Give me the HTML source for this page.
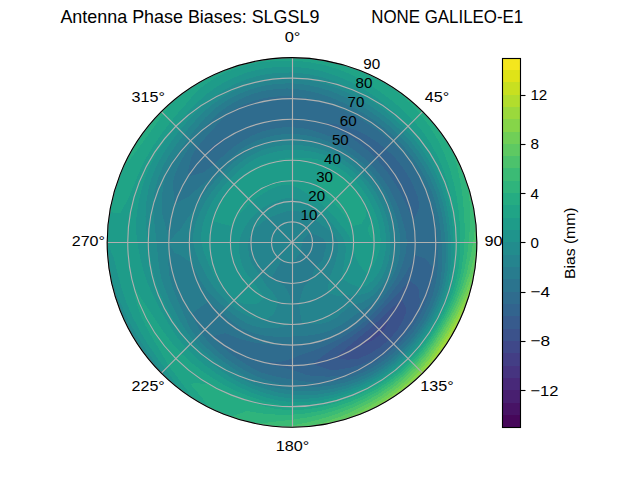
<!DOCTYPE html>
<html lang="en">
<head>
<meta charset="utf-8">
<title>Antenna Phase Biases: SLGSL9 NONE GALILEO-E1</title>
<style>
html,body{margin:0;padding:0;background:#fff;}
body{width:640px;height:480px;overflow:hidden;}
svg{display:block;}
text{font-family:"Liberation Sans",sans-serif;fill:#000;}
.tk{font-size:15.2px;}
.ttl{font-size:18.4px;}
.grid{stroke:#b0b0b0;stroke-width:1.11;fill:none;}
.tick{stroke:#000;stroke-width:1.11;}
</style>
</head>
<body>
<svg width="640" height="480" viewBox="0 0 640 480">
<rect x="0" y="0" width="640" height="480" fill="#ffffff"/>
<defs><clipPath id="polarclip"><circle cx="292.0" cy="242.4" r="184.8"/></clipPath></defs>
<g id="contours" clip-path="url(#polarclip)" shape-rendering="crispEdges" fill-rule="evenodd" stroke="none">
<path fill="#3f4889" d="M385.9 321.19L377.99 328.39L370.17 335.56L362.3 342.8L359.6 345.4L363.51 344.53L373.75 339.82L382.18 332.58L387.83 322.81L388.61 318.85Z"/>
<path fill="#3b528b" d="M397.09 303.08L389.31 310.54L381.73 317.7L374.22 324.62L366.62 331.33L358.86 337.88L350.9 344.42L342.73 351.18L334.79 357.93L346.65 359.6L356.27 359.37L359.02 358.49L369.9 353.65L379.98 347.25L389.07 339.47L396.95 330.46L403.19 320.25L406.3 311.31L405.85 308.13L401.6 298.68ZM388.61 318.85L387.83 322.81L382.18 332.58L373.75 339.82L363.51 344.53L359.6 345.4L362.3 342.8L370.17 335.56L377.99 328.39L385.9 321.19Z"/>
<path fill="#375b8d" d="M377.85 314.44L370.85 321.25L363.5 327.61L355.83 333.55L347.84 339.12L339.56 344.4L337 345.98L331.17 350.01L322.5 356.22L313.33 363.36L312.69 363.85L313.47 364.14L325.82 368.61L330.99 370.05L338.3 369.61L350.41 367.67L362.25 364.08L373.5 358.8L383.98 352.02L393.63 344.03L393.63 344.03L402.27 334.93L409.94 324.98L416.48 314.27L416.48 314.27L419.97 302.07L418.44 288.42L417.84 286.88L409.24 280.25L406.38 284.03L399.15 292.37L391.76 300L384.59 307.23L384.11 307.75ZM401.6 298.68L405.85 308.13L406.3 311.31L403.19 320.25L396.95 330.46L389.07 339.47L379.98 347.25L369.9 353.65L359.02 358.49L356.27 359.37L346.65 359.6L334.79 357.93L342.73 351.18L350.9 344.42L358.86 337.88L366.62 331.33L374.22 324.62L381.73 317.7L389.31 310.54L397.09 303.08Z"/>
<path fill="#32648e" d="M393.69 289.82L387.67 297.63L381.43 305.02L374.94 312L368.13 318.53L360.95 324.57L353.43 330.13L345.59 335.22L337.46 339.89L329.03 344.14L320.29 348L311.23 351.48L301.82 354.63L300.36 355.02L292 358.8L281.57 361.56L270.91 362.04L260.11 361.4L260.11 361.4L260.11 361.4L270.48 364.46L281.11 366.88L292 369.7L303.5 373.82L306.48 375.08L315.57 376.08L327.97 376.65L340.6 375.92L348.14 374.72L352.97 373.15L364.66 368.26L375.8 362.08L386.27 354.74L395.98 346.38L404.84 337.08L412.74 326.95L419.56 316.04L425.13 304.48L429.33 292.38L432.07 279.93L433.5 267.67L433.16 267.29L424.51 258.35L414.56 254.96L411.24 263.42L406.09 272.97L400.01 281.71L395.88 286.7ZM384.11 307.75L384.59 307.23L391.76 300L399.15 292.37L406.38 284.03L409.24 280.25L417.84 286.88L418.44 288.42L419.97 302.07L416.48 314.27L416.48 314.27L409.94 324.98L402.27 334.93L393.63 344.03L393.63 344.03L383.98 352.02L373.5 358.8L362.25 364.08L350.41 367.67L338.3 369.61L330.99 370.05L325.82 368.61L313.47 364.14L312.69 363.85L313.33 363.36L322.5 356.22L331.17 350.01L337 345.98L339.56 344.4L347.84 339.12L355.83 333.55L363.5 327.61L370.85 321.25L377.85 314.44ZM323.85 123.54L333.76 127.66L343.2 132.59L352.14 138.23L360.58 144.46L368.5 151.23L375.89 158.51L382.75 166.26L389.05 174.44L394.8 183.05L400 192.04L404.74 201.37L409.14 211.01L413.26 221.02L413.41 221.45L413.71 220.94L418.81 208.42L418.48 199.79L417.67 196.66L413.43 185.77L407.95 175.46L401.47 165.75L397.54 160.7L394.01 156.8L385.59 148.81L376.49 141.71L366.81 135.57L356.62 130.48L346.01 126.57L335.1 123.99L324 122.97L322.16 122.95ZM204.88 155.28L213.87 149.29L222 142.43L230.4 135.71L230.4 135.71L230.4 135.71L220.4 140.15L211.79 146.81L204.88 155.28L204.88 155.28Z"/>
<path fill="#2f6c8e" d="M343.33 331.31L335.34 335.34L327.09 338.81L318.57 341.57L309.82 343.49L300.94 344.61L292 345.07L292 345.07L283.01 345.13L273.94 344.81L264.77 344.03L255.48 342.75L246.16 340.71L236.93 337.78L227.74 334.18L225.03 333.33L213.42 336.04L212.48 336.5L212.76 336.84L220.31 344.78L228.73 351.99L237.75 358.75L247.32 365.15L257.54 371.02L259.21 371.78L268.65 374.8L280.19 377.42L292 379.5L304.16 381.42L316.76 382.82L321.37 383.1L329.47 382.25L342.02 379.82L354.33 376.07L366.26 371.02L377.64 364.71L388.36 357.24L398.32 348.72L407.41 339.24L415.55 328.91L422.63 317.82L428.57 306.08L433.16 293.78L436.2 281.04L437.7 268.09L438.07 255.18L437.69 242.4L436.67 229.74L434.83 217.22L431.95 204.9L427.88 192.94L422.69 181.46L416.48 170.53L416.48 170.53L408.95 160.51L400.8 151.11L392.04 142.36L382.69 134.32L372.81 126.99L362.45 120.37L351.68 114.41L340.54 109.05L329.04 104.18L324.62 102.42L317.05 100.33L304.65 97.77L292 96.34L292 98.67L292 108.93L292 119.2L292 127.24L301.99 128.17L311.79 130.17L321.28 133.13L323.2 133.86L330.49 136.65L339.36 140.84L347.83 145.7L355.86 151.19L363.43 157.27L370.49 163.91L377.01 171.07L382.94 178.72L388.25 186.83L392.92 195.34L396.96 204.2L400.38 213.36L403.2 222.79L403.27 223.06L405.79 232.44L406.89 242.4L405.94 252.37L403.23 262.01L403.21 262.06L399.84 271.3L395.34 280.01L390.04 288.12L384.29 295.68L378.3 302.83L372.03 309.55L365.41 315.81L358.4 321.54L351.03 326.7L343.33 331.31ZM395.88 286.7L400.01 281.71L406.09 272.97L411.24 263.42L414.56 254.96L424.51 258.35L433.16 267.29L433.5 267.67L432.07 279.93L429.33 292.38L425.13 304.48L419.56 316.04L412.74 326.95L404.84 337.08L395.98 346.38L386.27 354.74L375.8 362.08L364.66 368.26L352.97 373.15L348.14 374.72L340.6 375.92L327.97 376.65L315.57 376.08L306.48 375.08L303.5 373.82L292 369.7L281.11 366.88L270.48 364.46L260.11 361.4L260.11 361.4L260.11 361.4L270.91 362.04L281.57 361.56L292 358.8L300.36 355.02L301.82 354.63L311.23 351.48L320.29 348L329.03 344.14L337.46 339.89L345.59 335.22L353.43 330.13L360.95 324.57L368.13 318.53L374.94 312L381.43 305.02L387.67 297.63L393.69 289.82ZM322.16 122.95L324 122.97L335.1 123.99L346.01 126.57L356.62 130.48L366.81 135.57L376.49 141.71L385.59 148.81L394.01 156.8L397.54 160.7L401.47 165.75L407.95 175.46L413.43 185.77L417.67 196.66L418.48 199.79L418.81 208.42L413.71 220.94L413.41 221.45L413.26 221.02L409.14 211.01L404.74 201.37L400 192.04L394.8 183.05L389.05 174.44L382.75 166.26L375.89 158.51L368.5 151.23L360.58 144.46L352.14 138.23L343.2 132.59L333.76 127.66L323.85 123.54ZM206.23 170.43L213.97 164.37L221.09 157.89L228.26 151.37L235.92 145.27L243.54 140.39L244.22 139.94L252.96 135.13L262.27 131.43L271.98 128.87L281.95 127.47L292 127.24L292 119.2L292 108.93L292 98.67L292 96.34L279.22 96.27L266.49 97.73L254.05 100.78L242.12 105.37L230.94 111.45L226.97 114.22L221.37 120.07L212.84 129.35L204.67 138.32L197.11 147.51L194.29 151.49L191.27 157.88L188.22 169.74L187.81 176.66L195.36 174.73L203.5 172.25ZM204.88 155.28L204.88 155.28L211.79 146.81L220.4 140.15L230.4 135.71L230.4 135.71L230.4 135.71L222 142.43L213.87 149.29L204.88 155.28Z"/>
<path fill="#2b748e" d="M380.91 293.73L374.82 300.39L368.02 306.19L360.69 311.09L353.68 315.91L347 320.94L340.04 325.61L332.58 329.43L324.73 332.33L316.63 334.32L308.42 335.5L300.2 336.12L292 336.49L283.74 336.78L275.37 336.7L266.93 335.98L258.49 334.46L250.22 332L242.33 328.44L235.03 323.76L228.22 318.41L221.58 312.82L214.76 307.21L208.21 301.73L199.84 307.67L191.53 313.71L195.75 323.16L201.4 333L208.44 341.99L216.55 350.15L225.38 357.79L226.27 358.56L235.04 364.56L245.28 370.76L256.15 376.2L267.66 380.46L279.64 383.64L292 386.13L292 386.13L304.67 387.17L317.51 387.06L330.38 385.63L343.15 382.94L355.69 378.99L367.85 373.78L379.48 367.34L390.45 359.73L400.66 351.06L409.61 341.82L409.98 341.4L418.28 330.82L425.58 319.52L431.83 307.61L436.87 295.13L438.49 289.89L440.32 282.14L441.88 268.83L442.14 255.54L441.6 242.4L440.48 229.41L438.57 216.56L435.65 203.91L431.56 191.6L426.33 179.76L420.07 168.46L412.87 157.77L404.82 147.73L396 138.4L386.49 129.79L376.37 121.91L365.7 114.75L354.54 108.27L342.92 102.5L330.83 97.48L318.28 93.33L305.31 90.26L292 88.6L292 96.34L304.65 97.77L317.05 100.33L324.62 102.42L329.04 104.18L340.54 109.05L351.68 114.41L362.45 120.37L372.81 126.99L382.69 134.32L392.04 142.36L400.8 151.11L408.95 160.51L416.48 170.53L416.48 170.53L422.69 181.46L427.88 192.94L431.95 204.9L434.83 217.22L436.67 229.74L437.69 242.4L438.07 255.18L437.7 268.09L436.2 281.04L433.16 293.78L428.57 306.08L422.63 317.82L415.55 328.91L407.41 339.24L398.32 348.72L388.36 357.24L377.64 364.71L366.26 371.02L354.33 376.07L342.02 379.82L329.47 382.25L321.37 383.1L316.76 382.82L304.16 381.42L292 379.5L280.19 377.42L268.65 374.8L259.21 371.78L257.54 371.02L247.32 365.15L237.75 358.75L228.73 351.99L220.31 344.78L212.76 336.84L212.48 336.5L213.42 336.04L225.03 333.33L227.74 334.18L236.93 337.78L246.16 340.71L255.48 342.75L264.77 344.03L273.94 344.81L283.01 345.13L292 345.07L292 345.07L300.94 344.61L309.82 343.49L318.57 341.57L327.09 338.81L335.34 335.34L343.33 331.31L343.33 331.31L351.03 326.7L358.4 321.54L365.41 315.81L372.03 309.55L378.3 302.83L384.29 295.68L390.04 288.12L395.34 280.01L399.84 271.3L403.21 262.06L403.23 262.01L405.94 252.37L406.89 242.4L405.79 232.44L403.27 223.06L403.2 222.79L400.38 213.36L396.96 204.2L392.92 195.34L388.25 186.83L382.94 178.72L377.01 171.07L370.49 163.91L363.43 157.27L355.86 151.19L347.83 145.7L339.36 140.84L330.49 136.65L323.2 133.86L321.28 133.13L311.79 130.17L301.99 128.17L292 127.24L292 129.47L292 133.96L301.43 134.6L310.73 136.16L319.82 138.58L328.62 141.79L337.09 145.71L345.18 150.28L352.88 155.45L360.14 161.19L366.93 167.47L373.18 174.28L378.86 181.58L383.94 189.32L388.36 197.47L392.13 205.95L395.26 214.73L397.76 223.75L399.51 232.99L400.33 242.4L400.01 251.85L398.41 261.16L395.51 270.13L391.38 278.57L386.39 286.42L380.91 293.73ZM219.4 169.8L219.4 169.8L225.61 163.28L232.05 156.78L239.09 150.75L246.84 145.55L255.2 141.28L264.02 137.97L273.18 135.64L282.54 134.3L292 133.96L292 129.47L292 127.24L281.95 127.47L271.98 128.87L262.27 131.43L252.96 135.13L244.22 139.94L243.54 140.39L235.92 145.27L228.26 151.37L221.09 157.89L213.97 164.37L206.23 170.43L203.5 172.25L195.36 174.73L187.81 176.66L188.22 169.74L191.27 157.88L194.29 151.49L197.11 147.51L204.67 138.32L212.84 129.35L221.37 120.07L226.97 114.22L230.94 111.45L242.12 105.37L254.05 100.78L266.49 97.73L279.22 96.27L292 96.34L292 88.6L286.93 88.48L278.56 88.77L265.23 90.59L261.26 91.5L252.26 94.11L239.9 99.26L228.32 105.84L217.74 113.77L208.35 122.93L201.98 130.35L200.13 132.92L192.61 143.01L185.53 153.06L179.46 163.6L174.95 174.82L173.07 181.83L173.19 187L174.3 199.56L174.94 204.01L179.48 201.45L188.79 196.56L190.36 195L198.09 188.18L205.78 182.03L212.89 176.02L219.4 169.8Z"/>
<path fill="#287c8e" d="M309.78 232.13L306.9 235.45L304.8 237.74L303.48 239.32L302.83 240.49L302.56 241.48L302.48 242.4L302.43 243.31L302.34 244.22L302.12 245.11L301.74 245.95L301.39 246.78L301.25 247.74L301.41 248.99L301.6 250.46L301.47 251.87L300.78 252.86L299.8 253.54L298.84 254.25L298.03 255.34L297.26 256.86L296.37 258.71L295.2 260.58L293.72 262.06L292 262.93L292 262.93L290.16 263.43L288.35 263.11L286.69 262.23L286.69 262.23L285 261.62L283.35 260.96L281.73 260.18L281.73 260.18L276.6 269.07L271.47 277.96L271.47 277.96L274.32 280.32L277.57 282.05L280.96 283.59L284.32 285.96L287.74 291.09L289.12 293.65L292 304L292 314.27L292 324.53L284.65 326.41L276.91 327.98L268.94 328.45L260.96 327.68L253.12 325.77L249.02 324.2L245.65 322.68L238.68 318.54L232.17 313.7L225.93 308.47L219.72 303.05L213.55 297.33L207.66 291.1L202.54 284.11L198.21 276.54L194.3 268.58L191.25 262.14L188.14 260.71L179.76 254.85L174.24 252.7L168.8 242.4L177.07 232.34L179.69 230.56L184.07 223.37L189.93 215.05L195.24 208.07L195.64 207.33L200.22 199.6L205.29 192.34L210.8 185.54L216.57 179.11L222.51 172.91L228.59 166.83L234.97 160.96L241.83 155.51L249.26 150.74L257.19 146.76L265.54 143.63L274.19 141.41L281.77 140.24L283.05 140.1L292 139.73L292 139.73L292 139.73L292 133.96L282.54 134.3L273.18 135.64L264.02 137.97L255.2 141.28L246.84 145.55L239.09 150.75L232.05 156.78L225.61 163.28L219.4 169.8L219.4 169.8L219.4 169.8L212.89 176.02L205.78 182.03L198.09 188.18L190.36 195L188.79 196.56L179.48 201.45L174.94 204.01L174.3 199.56L173.19 187L173.07 181.83L174.95 174.82L179.46 163.6L185.53 153.06L192.61 143.01L200.13 132.92L201.98 130.35L208.35 122.93L217.74 113.77L228.32 105.84L239.9 99.26L252.26 94.11L261.26 91.5L265.23 90.59L278.56 88.77L286.93 88.48L292 88.6L292 88.4L292 83.33L278.11 83.67L264.36 85.67L250.97 89.26L238.11 94.33L225.98 100.81L214.79 108.67L212.84 110.3L204.94 118.07L196.22 128.26L188.25 138.65L180.61 148.93L173.52 159.44L167.52 170.53L167.52 170.53L163.87 182.65L162.07 195.11L161.64 207.47L161.86 212.81L163.84 219.8L167.06 231.47L168.8 242.4L168.68 253.19L168.37 264.2L169.36 275.26L172.17 286.01L176.12 296.44L180.49 306.78L184.99 317.33L190.12 327.89L191.36 330.07L196.85 337.55L204.86 346.25L213.76 354.15L223.25 361.47L233.2 368.5L243.67 375.2L254.8 381.24L254.8 381.24L266.78 385.45L279.22 388.45L292 390.42L305.02 391.27L318.17 390.8L331.29 389.02L344.29 386.05L357.05 381.91L357.99 381.55L369.34 376.35L381.06 369.59L392.12 361.72L402.38 352.78L411.73 342.86L420.11 332.1L427.51 320.64L433.91 308.57L439.13 295.95L442.92 282.84L445.11 269.4L445.92 255.87L445.91 247.67L445.51 242.4L444.28 229.08L442.32 215.9L439.36 202.91L435.24 190.27L429.98 178.06L423.65 166.39L416.36 155.32L408.19 144.9L399.22 135.18L389.53 126.16L379.21 117.85L368.32 110.21L356.92 103.19L353.3 101.13L344.93 96.97L332.38 91.72L319.3 87.55L305.8 84.68L292 83.33L292 88.4L292 88.6L305.31 90.26L318.28 93.33L330.83 97.48L342.92 102.5L354.54 108.27L365.7 114.75L376.37 121.91L386.49 129.79L396 138.4L404.82 147.73L412.87 157.77L420.07 168.46L426.33 179.76L431.56 191.6L435.65 203.91L438.57 216.56L440.48 229.41L441.6 242.4L442.14 255.54L441.88 268.83L440.32 282.14L438.49 289.89L436.87 295.13L431.83 307.61L425.58 319.52L418.28 330.82L409.98 341.4L409.61 341.82L400.66 351.06L390.45 359.73L379.48 367.34L367.85 373.78L355.69 378.99L343.15 382.94L330.38 385.63L317.51 387.06L304.67 387.17L292 386.13L292 386.13L279.64 383.64L267.66 380.46L256.15 376.2L245.28 370.76L235.04 364.56L226.27 358.56L225.38 357.79L216.55 350.15L208.44 341.99L201.4 333L195.75 323.16L191.53 313.71L199.84 307.67L208.21 301.73L214.76 307.21L221.58 312.82L228.22 318.41L235.03 323.76L242.33 328.44L250.22 332L258.49 334.46L266.93 335.98L275.37 336.7L283.74 336.78L292 336.49L300.2 336.12L308.42 335.5L316.63 334.32L324.73 332.33L332.58 329.43L340.04 325.61L347 320.94L353.68 315.91L360.69 311.09L368.02 306.19L374.82 300.39L380.91 293.73L380.91 293.73L386.39 286.42L391.38 278.57L395.51 270.13L398.41 261.16L400.01 251.85L400.33 242.4L399.51 232.99L397.76 223.75L395.26 214.73L392.13 205.95L388.36 197.47L383.94 189.32L378.86 181.58L373.18 174.28L366.93 167.47L360.14 161.19L352.88 155.45L345.18 150.28L337.09 145.71L328.62 141.79L319.82 138.58L310.73 136.16L301.43 134.6L292 133.96L292 139.73L292 139.73L300.94 140.26L309.77 141.64L318.42 143.81L326.83 146.71L334.95 150.3L342.73 154.54L350.13 159.38L357.11 164.8L363.62 170.78L369.61 177.28L375.04 184.26L379.86 191.67L384.04 199.48L387.55 207.62L390.39 216.04L392.53 224.67L393.95 233.48L394.67 242.4L394.67 242.4L394.7 251.38L393.6 260.31L391.17 268.97L391.17 268.97L387.29 277.08L382.46 284.58L376.93 291.43L370.5 297.37L363.01 301.99L362.25 302.43L354.11 304.51L347.2 308.19L341.64 313.29L335.8 318.26L328.98 321.71L321.54 323.57L313.9 324.12L306.37 323.88L302.4 323.87L300.22 313.8L298.8 303.62L301.27 294.98L301.8 292.79L303.96 287.03L306.92 283.41L309.88 280.74L312.53 277.96L312.53 277.96L313.37 272.92L314.31 268.99L315.79 266.19L318.04 264.25L320.52 262.37L322.5 260.01L323.49 257.09L324 254.05L324.6 251.14L325.62 248.33L326.39 245.41L325.82 242.4L323.8 239.62L322.53 238.32L320.58 237.36L316.98 235.71L314.15 234.34L311.8 233.17L309.78 232.13L309.78 232.13ZM277.48 256.92L276.29 255.58L275.21 254.16L274.22 252.67L274.22 252.67L274.22 252.67L275.14 254.21L276.24 255.62L277.48 256.92L277.48 256.92ZM272.17 247.71L272.07 245.91L271.99 244.15L271.47 242.4L271.47 242.4L271.47 242.4L271.09 244.23L271.46 246.02L272.17 247.71L272.17 247.71Z"/>
<path fill="#25848e" d="M292 242.4L292 242.4L292 242.4L292 242.4L292 242.4L292 242.4L292 242.4L292 242.4L292 242.4L292 242.4L292 242.4L292 242.4L292 242.4L292 242.4L292 242.4L292 242.4L292 242.4L292 242.4L292 242.4L292 242.4L292 242.4L292 242.4L292 242.4L292 242.4L292 242.4L292 242.4L292 242.4L292 242.4L292 242.4L292 242.4L292 242.4L292 242.4L292 242.4L292 242.4L292 242.4L292 242.4L292 242.4L292 242.4L292 242.4L292 242.4L292 242.4L292 242.4L292 242.4L292 242.4L292 242.4L292 242.4L292 242.4L292 242.4L292 242.4L292 242.4L292 242.4L292 242.4L292 242.4L292 242.4L292 242.4L292 242.4L292 242.4L292 242.4L292 242.4L292 242.4L292 242.4L292 242.4L292 242.4L292 242.4L292 242.4L292 242.4L292 242.4L292 242.4L292 242.4L292 242.4L292 242.4L292 242.4L292 232.13L292 221.87L292 211.6L292 210.65L289.24 210.87L286.53 211.36L283.87 212.07L281.27 212.92L278.7 213.88L276.12 214.9L273.49 215.96L270.77 217.1L268 218.4L265.27 219.97L262.64 221.84L260.12 223.99L257.62 226.37L255.05 228.95L252.33 231.77L252.33 231.77L250.55 235.09L249.14 238.65L248.27 242.4L248.05 246.25L248.33 250.1L248.93 253.94L249.73 257.79L250.87 261.58L252.57 265.16L254.88 268.39L257.42 271.42L259.81 274.59L261.92 278.25L264.15 282.18L266.8 286.05L268.54 288.06L269.97 289.64L273.43 293.43L276.87 298.85L278.24 302.44L274.63 312.14L272.6 314.82L265.64 320.19L263.72 320.1L256.34 318.88L249.17 316.59L242.35 313.31L235.95 309.2L229.96 304.44L224.29 299.21L218.94 293.56L213.93 287.47L209.43 280.9L205.4 273.92L204.68 272.62L201.65 266.61L198.07 258.96L195.04 250.88L193.27 242.4L193.39 233.77L195.1 225.31L197.84 217.17L201.24 209.37L205.21 201.93L209.71 194.89L214.69 188.27L220.03 182.01L225.61 176.01L231.42 170.2L237.56 164.65L244.17 159.55L251.3 155.12L258.89 151.43L266.85 148.55L275.09 146.48L283.5 145.23L292 144.79L292 139.73L292 139.73L283.05 140.1L281.77 140.24L274.19 141.41L265.54 143.63L257.19 146.76L249.26 150.74L241.83 155.51L234.97 160.96L228.59 166.83L222.51 172.91L216.57 179.11L210.8 185.54L205.29 192.34L200.22 199.6L195.64 207.33L195.24 208.07L189.93 215.05L184.07 223.37L179.69 230.56L177.07 232.34L168.8 242.4L174.24 252.7L179.76 254.85L188.14 260.71L191.25 262.14L194.3 268.58L198.21 276.54L202.54 284.11L207.66 291.1L213.55 297.33L219.72 303.05L225.93 308.47L232.17 313.7L238.68 318.54L245.65 322.68L249.02 324.2L253.12 325.77L260.96 327.68L268.94 328.45L276.91 327.98L284.65 326.41L292 324.53L292 314.27L292 304L289.12 293.65L287.74 291.09L284.32 285.96L280.96 283.59L277.57 282.05L274.32 280.32L271.47 277.96L271.47 277.96L276.6 269.07L281.73 260.18L281.73 260.18L283.35 260.96L285 261.62L286.69 262.23L286.69 262.23L288.35 263.11L290.16 263.43L292 262.93L292 262.93L293.72 262.06L295.2 260.58L296.37 258.71L297.26 256.86L298.03 255.34L298.84 254.25L299.8 253.54L300.78 252.86L301.47 251.87L301.6 250.46L301.41 248.99L301.25 247.74L301.39 246.78L301.74 245.95L302.12 245.11L302.34 244.22L302.43 243.31L302.48 242.4L302.56 241.48L302.83 240.49L303.48 239.32L304.8 237.74L306.9 235.45L309.78 232.13L309.78 232.13L309.78 232.13L311.8 233.17L314.15 234.34L316.98 235.71L320.58 237.36L322.53 238.32L323.8 239.62L325.82 242.4L326.39 245.41L325.62 248.33L324.6 251.14L324 254.05L323.49 257.09L322.5 260.01L320.52 262.37L318.04 264.25L315.79 266.19L314.31 268.99L313.37 272.92L312.53 277.96L312.53 277.96L309.88 280.74L306.92 283.41L303.96 287.03L301.8 292.79L301.27 294.98L298.8 303.62L300.22 313.8L302.4 323.87L306.37 323.88L313.9 324.12L321.54 323.57L328.98 321.71L335.8 318.26L341.64 313.29L347.2 308.19L354.11 304.51L362.25 302.43L363.01 301.99L370.5 297.37L376.93 291.43L382.46 284.58L387.29 277.08L391.17 268.97L391.17 268.97L393.6 260.31L394.7 251.38L394.67 242.4L394.67 242.4L393.95 233.48L392.53 224.67L390.39 216.04L387.55 207.62L384.04 199.48L379.86 191.67L375.04 184.26L369.61 177.28L363.62 170.78L357.11 164.8L350.13 159.38L342.73 154.54L334.95 150.3L326.83 146.71L318.42 143.81L309.77 141.64L300.94 140.26L292 139.73L292 144.79L300.51 145.15L308.95 146.28L317.25 148.16L325.35 150.76L333.19 154.06L340.71 158.03L347.85 162.63L354.57 167.83L360.82 173.58L366.56 179.84L371.75 186.56L376.36 193.7L380.37 201.19L383.75 209.01L386.48 217.08L388.53 225.38L389.86 233.84L390.41 242.4L390.12 250.98L388.85 259.48L386.41 267.7L382.85 275.47L378.37 282.68L372.95 289.13L370.36 291.37L365.18 293.64L355.4 295.6L354.4 295.8L344.67 295.07L339.5 296.33L336.77 295.76L327.39 292.94L327.29 292.89L327.3 292.82L328.3 285.66L329.23 279.63L329.9 277.02L330.7 274.87L332.43 270.71L334 266.65L335.26 262.57L336.25 258.51L337.15 254.5L338 250.51L338.4 246.46L337.91 242.4L336.36 238.52L334.15 234.97L331.67 231.77L331.67 231.77L327.84 229.36L324.69 227.16L321.94 225.11L319.47 223.17L317.13 221.32L314.84 219.56L312.55 217.91L310.22 216.39L307.82 214.99L305.36 213.76L302.81 212.69L300.19 211.82L297.51 211.16L294.77 210.76L292 210.65L292 211.6L292 221.87L292 232.13L292 242.4ZM277.48 256.92L277.48 256.92L276.24 255.62L275.14 254.21L274.22 252.67L274.22 252.67L274.22 252.67L275.21 254.16L276.29 255.58L277.48 256.92ZM272.17 247.71L272.17 247.71L271.46 246.02L271.09 244.23L271.47 242.4L271.47 242.4L271.47 242.4L271.99 244.15L272.07 245.91L272.17 247.71ZM190.12 327.89L184.99 317.33L180.49 306.78L176.12 296.44L172.17 286.01L169.36 275.26L168.37 264.2L168.68 253.19L168.8 242.4L167.06 231.47L163.84 219.8L161.86 212.81L161.64 207.47L162.07 195.11L163.87 182.65L167.52 170.53L167.52 170.53L173.52 159.44L180.61 148.93L188.25 138.65L196.22 128.26L204.94 118.07L212.84 110.3L214.79 108.67L225.98 100.81L238.11 94.33L250.97 89.26L264.36 85.67L278.11 83.67L292 83.33L292 78.13L292 78.13L277.66 78.54L269.13 79.73L263.5 80.75L249.7 84.54L236.46 89.81L223.95 96.46L212.33 104.4L201.81 113.6L192.44 123.75L188.67 128.21L184.01 134.41L176.02 145.08L168.62 156.01L162.29 167.51L157.55 179.71L154.5 192.36L153.16 205.2L153.16 205.2L153.83 218.04L155.25 230.44L156.72 242.4L157.71 254.15L158.92 265.87L161.17 277.46L164.79 288.7L169.38 299.58L174.51 310.23L180.03 320.8L186.28 331.11L193.61 340.79L202.07 349.57L211.36 357.57L221.17 365.07L231.36 372.45L232.42 373.2L242.15 379.35L253.79 385.01L266.09 389.37L278.86 392.61L292 394.72L305.38 395.37L311.53 395.16L318.81 394.44L332.13 392.15L345.26 388.73L358.11 384.16L370.54 378.43L382.42 371.53L393.63 363.52L404.03 354.43L413.47 344.33L421.94 333.38L429.44 321.75L435.98 309.54L441.38 296.77L445.34 283.49L447.65 269.85L448.52 256.09L448.32 242.4L447.32 228.81L445.45 215.34L442.56 202.06L438.51 189.07L433.31 176.51L427.01 164.45L419.69 152.99L411.43 142.19L402.31 132.09L392.44 122.7L381.88 114.05L370.7 106.1L358.94 98.84L346.6 92.38L333.68 86.86L320.2 82.49L306.25 79.5L292 78.13L292 78.13L292 78.13L292 83.33L305.8 84.68L319.3 87.55L332.38 91.72L344.93 96.97L353.3 101.13L356.92 103.19L368.32 110.21L379.21 117.85L389.53 126.16L399.22 135.18L408.19 144.9L416.36 155.32L423.65 166.39L429.98 178.06L435.24 190.27L439.36 202.91L442.32 215.9L444.28 229.08L445.51 242.4L445.91 247.67L445.92 255.87L445.11 269.4L442.92 282.84L439.13 295.95L433.91 308.57L427.51 320.64L420.11 332.1L411.73 342.86L402.38 352.78L392.12 361.72L381.06 369.59L369.34 376.35L357.99 381.55L357.05 381.91L344.29 386.05L331.29 389.02L318.17 390.8L305.02 391.27L292 390.42L279.22 388.45L266.78 385.45L254.8 381.24L254.8 381.24L243.67 375.2L233.2 368.5L223.25 361.47L213.76 354.15L204.86 346.25L196.85 337.55L191.36 330.07Z"/>
<path fill="#228c8d" d="M294.77 210.76L297.51 211.16L300.19 211.82L302.81 212.69L305.36 213.76L307.82 214.99L310.22 216.39L312.55 217.91L314.84 219.56L317.13 221.32L319.47 223.17L321.94 225.11L324.69 227.16L327.84 229.36L331.67 231.77L331.67 231.77L334.15 234.97L336.36 238.52L337.91 242.4L338.4 246.46L338 250.51L337.15 254.5L336.25 258.51L335.26 262.57L334 266.65L332.43 270.71L330.7 274.87L329.9 277.02L329.23 279.63L328.3 285.66L327.3 292.82L327.29 292.89L327.39 292.94L336.77 295.76L339.5 296.33L344.67 295.07L354.4 295.8L355.4 295.6L365.18 293.64L370.36 291.37L372.95 289.13L378.37 282.68L382.85 275.47L386.41 267.7L388.85 259.48L390.12 250.98L390.41 242.4L389.86 233.84L388.53 225.38L386.48 217.08L383.75 209.01L380.37 201.19L376.36 193.7L371.75 186.56L366.56 179.84L360.82 173.58L354.57 167.83L347.85 162.63L340.71 158.03L333.19 154.06L325.35 150.76L317.25 148.16L308.95 146.28L300.51 145.15L292 144.79L292 149.85L300.08 150.03L308.13 150.91L316.09 152.5L323.88 154.81L331.44 157.82L338.69 161.53L345.57 165.89L352.03 170.86L358.01 176.39L363.5 182.41L368.45 188.87L372.86 195.72L376.7 202.91L379.94 210.39L382.57 218.13L384.54 226.08L385.76 234.2L386.15 242.4L385.61 250.59L384.1 258.64L381.66 266.42L380.18 270.02L378.09 273.73L373.12 280.23L366.64 285.49L360.36 287.93L351.85 284.31L350.68 283.89L341.84 278.61L341.92 277.36L342.67 271.65L343.56 266.44L344.38 261.46L345.07 256.62L345.59 251.85L345.62 247.09L344.8 242.4L343.2 238.77L342.81 237.95L340.2 233.9L337.45 230.22L334.76 226.84L332.05 223.73L329.28 220.88L326.5 218.24L323.74 215.76L321.34 213.66L320.99 213.41L318.21 211.16L315.41 208.97L312.53 206.84L312.53 206.84L309.51 204.85L306.34 202.99L303.01 201.31L299.5 199.87L295.82 198.78L292 198.16L292 201.33L292 210.65ZM255.05 228.95L257.62 226.37L260.12 223.99L262.64 221.84L265.27 219.97L268 218.4L270.77 217.1L273.49 215.96L276.12 214.9L278.7 213.88L281.27 212.92L283.87 212.07L286.53 211.36L289.24 210.87L292 210.65L292 201.33L292 198.16L288.13 198.14L284.29 198.68L280.55 199.67L276.92 200.97L273.38 202.48L269.88 204.09L266.37 205.8L262.9 207.72L259.57 209.97L256.47 212.59L253.6 215.51L250.9 218.67L248.34 222.04L245.94 225.64L243.75 229.47L241.82 233.55L241.17 235.26L240.16 237.86L239.11 242.4L238.87 247.05L239.22 251.71L239.94 256.35L240.88 261.01L242.25 265.6L244.27 269.95L247 273.91L250.06 277.6L253.03 281.37L255.83 285.5L258.81 289.8L262.13 294.13L264.86 297.7L256.27 304.29L255.84 304.51L248.55 304.46L241.09 303.07L233.92 300.48L233.92 300.48L228.7 295.51L223.99 290.02L219.71 284.13L215.81 277.93L212.25 271.43L208.99 264.64L205.93 257.58L203.24 250.17L201.44 242.4L201.16 234.45L202.33 226.59L204.51 218.96L207.33 211.58L210.73 204.5L214.7 197.77L219.22 191.44L224.16 185.48L229.39 179.79L234.85 174.29L240.62 169.03L246.83 164.16L253.54 159.93L260.7 156.41L268.22 153.64L276 151.63L283.95 150.35L284 150.35L292 149.85L292 144.79L283.5 145.23L275.09 146.48L266.85 148.55L258.89 151.43L251.3 155.12L244.17 159.55L237.56 164.65L231.42 170.2L225.61 176.01L220.03 182.01L214.69 188.27L209.71 194.89L205.21 201.93L201.24 209.37L197.84 217.17L195.1 225.31L193.39 233.77L193.27 242.4L195.04 250.88L198.07 258.96L201.65 266.61L204.68 272.62L205.4 273.92L209.43 280.9L213.93 287.47L218.94 293.56L224.29 299.21L229.96 304.44L235.95 309.2L242.35 313.31L249.17 316.59L256.34 318.88L263.72 320.1L265.64 320.19L272.6 314.82L274.63 312.14L278.24 302.44L276.87 298.85L273.43 293.43L269.97 289.64L268.54 288.06L266.8 286.05L264.15 282.18L261.92 278.25L259.81 274.59L257.42 271.42L254.88 268.39L252.57 265.16L250.87 261.58L249.73 257.79L248.93 253.94L248.33 250.1L248.05 246.25L248.27 242.4L249.14 238.65L250.55 235.09L252.33 231.77L252.33 231.77ZM231.36 372.45L221.17 365.07L211.36 357.57L202.07 349.57L193.61 340.79L186.28 331.11L180.03 320.8L174.51 310.23L169.38 299.58L164.79 288.7L161.17 277.46L158.92 265.87L157.71 254.15L156.72 242.4L155.25 230.44L153.83 218.04L153.16 205.2L153.16 205.2L154.5 192.36L157.55 179.71L162.29 167.51L168.62 156.01L176.02 145.08L184.01 134.41L188.67 128.21L192.44 123.75L201.81 113.6L212.33 104.4L223.95 96.46L236.46 89.81L249.7 84.54L263.5 80.75L269.13 79.73L277.66 78.54L292 78.13L292 72.43L277.16 72.77L262.46 74.88L248.15 78.75L234.47 84.34L221.65 91.54L209.87 100.14L209.87 100.14L198.84 109.35L188.9 119.53L179.91 130.31L171.54 141.32L163.83 152.65L157.14 164.54L151.92 177.08L150.46 181.72L148.31 190.1L146.18 203.33L145.5 216.57L146.32 229.66L148.27 242.4L148.27 242.4L149.96 254.83L152.02 267.08L155.01 279.11L159.2 290.74L164.26 301.96L169.85 312.92L175.84 323.74L182.57 334.22L190.37 344.03L190.37 344.03L199.19 353.01L208.79 361.23L218.87 369.06L229.44 376.55L240.75 383.22L252.78 388.78L265.4 393.28L271.38 395.01L278.5 396.71L292 398.62L305.68 398.81L319.34 397.46L332.85 394.85L346.15 391.18L359.15 386.41L371.74 380.51L383.78 373.47L395.15 365.33L405.68 356.08L415.22 345.8L423.77 334.66L431.37 322.86L438.06 310.51L443.63 297.59L447.76 284.14L450.18 270.29L451.12 256.32L450.97 242.4L450.04 228.57L448.25 214.85L445.46 201.28L441.51 187.98L436.4 175.07L430.16 162.63L422.84 150.78L414.51 139.6L405.27 129.13L395.22 119.39L384.43 110.4L372.99 102.13L360.94 94.56L350.65 88.96L348.3 87.72L335.07 81.67L321.16 77L306.74 73.88L292 72.43L292 78.13L292 78.13L306.25 79.5L320.2 82.49L333.68 86.86L346.6 92.38L358.94 98.84L370.7 106.1L381.88 114.05L392.44 122.7L402.31 132.09L411.43 142.19L419.69 152.99L427.01 164.45L433.31 176.51L438.51 189.07L442.56 202.06L445.45 215.34L447.32 228.81L448.32 242.4L448.52 256.09L447.65 269.85L445.34 283.49L441.38 296.77L435.98 309.54L429.44 321.75L421.94 333.38L413.47 344.33L404.03 354.43L393.63 363.52L382.42 371.53L370.54 378.43L358.11 384.16L345.26 388.73L332.13 392.15L318.81 394.44L311.53 395.16L305.38 395.37L292 394.72L278.86 392.61L266.09 389.37L253.79 385.01L242.15 379.35L232.42 373.2ZM162.27 372.13L152.84 359.17L143.76 346.2L135.35 332.84L127.83 318.95L121.23 304.56L115.36 289.73L110.44 276.83L113.5 290.23L118.34 305.61L124.51 320.5L131.96 334.8L140.62 348.4L150.43 361.19L161.33 373.07L165.67 377.27Z"/>
<path fill="#1f948c" d="M315.41 208.97L318.21 211.16L320.99 213.41L321.34 213.66L323.74 215.76L326.5 218.24L329.28 220.88L332.05 223.73L334.76 226.84L337.45 230.22L340.2 233.9L342.81 237.95L343.2 238.77L344.8 242.4L345.62 247.09L345.59 251.85L345.07 256.62L344.38 261.46L343.56 266.44L342.67 271.65L341.92 277.36L341.84 278.61L350.68 283.89L351.85 284.31L360.36 287.93L366.64 285.49L373.12 280.23L378.09 273.73L380.18 270.02L381.66 266.42L384.1 258.64L385.61 250.59L386.15 242.4L385.76 234.2L384.54 226.08L382.57 218.13L379.94 210.39L376.7 202.91L372.86 195.72L368.45 188.87L363.5 182.41L358.01 176.39L352.03 170.86L345.57 165.89L338.69 161.53L331.44 157.82L323.88 154.81L316.09 152.5L308.13 150.91L300.08 150.03L292 149.85L292 150L292 157.84L299.42 157.55L306.91 157.82L314.41 158.77L321.82 160.47L329.05 162.95L335.99 166.21L342.56 170.2L348.69 174.84L354.34 180.06L359.48 185.78L364.09 191.92L368.18 198.42L371.74 205.22L374.78 212.27L377.3 219.54L379.26 227.01L380.45 234.66L380.6 242.4L379.46 250.05L377.07 257.4L373.79 264.31L370.18 270.85L367.66 274.37L361.93 267.85L359.98 265.72L357.1 259.84L353.98 253.33L352.97 251.22L352.64 247.71L351.57 242.4L349.66 237.35L346.98 232.71L343.79 228.52L340.55 224.73L339.89 223.9L337.76 221.06L334.99 217.58L332.1 214.32L329.12 211.25L326.07 208.33L322.93 205.53L319.71 202.83L316.36 200.2L312.88 197.61L309.22 195.1L305.7 192.93L305.33 192.65L301.27 189.84L296.81 187.41L292 185.7L292 191.07L292 198.16L295.82 198.78L299.5 199.87L303.01 201.31L306.34 202.99L309.51 204.85L312.53 206.84L312.53 206.84ZM241.82 233.55L243.75 229.47L245.94 225.64L248.34 222.04L250.9 218.67L253.6 215.51L256.47 212.59L259.57 209.97L262.9 207.72L266.37 205.8L269.88 204.09L273.38 202.48L276.92 200.97L280.55 199.67L284.29 198.68L288.13 198.14L292 198.16L292 191.07L292 185.7L286.98 185.02L281.94 185.37L277.05 186.6L272.37 188.48L267.93 190.78L263.65 193.3L259.45 195.92L255.35 198.73L251.43 201.83L247.73 205.25L244.24 208.96L240.94 212.92L237.84 217.14L234.99 221.65L232.5 226.46L222.58 223.8L212.67 221.14L214.57 214.22L217.1 207.47L220.31 201.01L224.21 194.93L228.65 189.24L233.51 183.91L238.71 178.9L244.28 174.25L250.25 170.09L256.63 166.55L263.34 163.67L270.3 161.42L277.43 159.75L284.67 158.58L292 157.84L292 150L292 149.85L284 150.35L283.95 150.35L276 151.63L268.22 153.64L260.7 156.41L253.54 159.93L246.83 164.16L240.62 169.03L234.85 174.29L229.39 179.79L224.16 185.48L219.22 191.44L214.7 197.77L210.73 204.5L207.33 211.58L204.51 218.96L202.33 226.59L201.16 234.45L201.44 242.4L203.24 250.17L205.93 257.58L208.99 264.64L212.25 271.43L215.81 277.93L219.71 284.13L223.99 290.02L228.7 295.51L233.92 300.48L233.92 300.48L241.09 303.07L248.55 304.46L255.84 304.51L256.27 304.29L264.86 297.7L262.13 294.13L258.81 289.8L255.83 285.5L253.03 281.37L250.06 277.6L247 273.91L244.27 269.95L242.25 265.6L240.88 261.01L239.94 256.35L239.22 251.71L238.87 247.05L239.11 242.4L240.16 237.86L241.17 235.26ZM182.57 334.22L175.84 323.74L169.85 312.92L164.26 301.96L159.2 290.74L155.01 279.11L152.02 267.08L149.96 254.83L148.27 242.4L148.27 242.4L146.32 229.66L145.5 216.57L146.18 203.33L148.31 190.1L150.46 181.72L151.92 177.08L157.14 164.54L163.83 152.65L171.54 141.32L179.91 130.31L188.9 119.53L198.84 109.35L209.87 100.14L209.87 100.14L221.65 91.54L234.47 84.34L248.15 78.75L262.46 74.88L277.16 72.77L292 72.43L292 67.87L292 66.66L276.65 66.9L261.4 68.87L246.5 72.61L232.24 78.22L230.79 78.95L218.81 85.45L206.44 94.21L195.25 104.23L185.11 115.02L175.85 126.25L175.85 126.25L167.13 137.62L159.18 149.4L152.21 161.69L146.47 174.54L142.01 187.81L138.76 201.34L136.61 215L135.89 228.74L137.32 242.4L138.04 245.69L139.76 255.72L142.86 268.7L146.91 281.28L152.02 293.35L157.89 304.94L164.12 316.23L170.63 327.38L177.89 338.15L186.19 348.21L195.56 357.33L205.69 365.66L216.35 373.44L227.52 380.67L239.34 387.08L239.62 387.22L251.72 392.71L264.7 397.25L278.16 400.56L292 402.28L305.98 402.16L319.87 400.47L333.57 397.56L347.04 393.63L360.2 388.65L372.93 382.58L385.14 375.41L396.66 367.13L407.33 357.73L416.97 347.26L425.6 335.94L433.3 323.98L440.13 311.47L445.88 298.41L450.19 284.79L452.72 270.74L453.72 256.55L453.62 242.4L452.75 228.34L451.05 214.35L448.35 200.51L444.51 186.89L439.49 173.62L433.31 160.81L425.99 148.58L417.6 137.01L410.72 128.87L408.29 126.11L398.28 115.74L387.44 106.1L375.84 97.18L363.52 89.03L350.43 81.85L336.62 75.87L322.17 71.27L312.04 69.02L307.24 68.15L292 66.66L292 67.87L292 72.43L306.74 73.88L321.16 77L335.07 81.67L348.3 87.72L350.65 88.96L360.94 94.56L372.99 102.13L384.43 110.4L395.22 119.39L405.27 129.13L414.51 139.6L422.84 150.78L430.16 162.63L436.4 175.07L441.51 187.98L445.46 201.28L448.25 214.85L450.04 228.57L450.97 242.4L451.12 256.32L450.18 270.29L447.76 284.14L443.63 297.59L438.06 310.51L431.37 322.86L423.77 334.66L415.22 345.8L405.68 356.08L395.15 365.33L383.78 373.47L371.74 380.51L359.15 386.41L346.15 391.18L332.85 394.85L319.34 397.46L305.68 398.81L292 398.62L278.5 396.71L271.38 395.01L265.4 393.28L252.78 388.78L240.75 383.22L229.44 376.55L218.87 369.06L208.79 361.23L199.19 353.01L190.37 344.03L190.37 344.03ZM174.86 382.01L165.43 368.97L156.17 356.37L147.49 343.59L139.58 330.4L132.57 316.74L126.53 302.62L121.55 288.07L117.56 273.16L113.8 257.99L107.2 242.4L107.2 242.4L107.2 242.4L107.9 258.51L110.01 274.49L110.44 276.83L115.36 289.73L121.23 304.56L127.83 318.95L135.35 332.84L143.76 346.2L152.84 359.17L162.27 372.13L165.67 377.27L173.21 383.97L179.42 388.95Z"/>
<path fill="#1e9c89" d="M309.22 195.1L312.88 197.61L316.36 200.2L319.71 202.83L322.93 205.53L326.07 208.33L329.12 211.25L332.1 214.32L334.99 217.58L337.76 221.06L339.89 223.9L340.55 224.73L343.79 228.52L346.98 232.71L349.66 237.35L351.57 242.4L352.64 247.71L352.97 251.22L353.98 253.33L357.1 259.84L359.98 265.72L361.93 267.85L367.66 274.37L370.18 270.85L373.79 264.31L377.07 257.4L379.46 250.05L380.6 242.4L380.45 234.66L379.26 227.01L377.3 219.54L374.78 212.27L371.74 205.22L368.18 198.42L364.09 191.92L359.48 185.78L354.34 180.06L348.69 174.84L342.56 170.2L335.99 166.21L329.05 162.95L321.82 160.47L314.41 158.77L306.91 157.82L299.42 157.55L292 157.84L292 160.27L292 170.53L292 180.8L292 185.7L296.81 187.41L301.27 189.84L305.33 192.65L305.7 192.93ZM316.04 185.69L321.65 176.94L323.12 175.67L333.07 171.27L333.07 171.27L339.29 174.86L345.08 179.15L350.38 184.02L355.16 189.4L359.41 195.2L363.13 201.33L363.13 201.33L365.29 208.23L366.64 215.23L361.42 223.8L351.5 226.46L348.68 221.77L345.8 217.31L342.79 213.08L339.56 209.1L336.16 205.34L332.65 201.75L329.06 198.24L325.38 194.73L321.61 191.12L317.69 187.31ZM371.33 221.14L373.18 228.09L374.25 235.2L374.13 242.4L369.69 235.6L367.71 229.05ZM234.99 221.65L237.84 217.14L240.94 212.92L244.24 208.96L247.73 205.25L251.43 201.83L255.35 198.73L259.45 195.92L263.65 193.3L267.93 190.78L272.37 188.48L277.05 186.6L281.94 185.37L286.98 185.02L292 185.7L292 180.8L292 170.53L292 160.27L292 157.84L284.67 158.58L277.43 159.75L270.3 161.42L263.34 163.67L256.63 166.55L250.25 170.09L244.28 174.25L238.71 178.9L233.51 183.91L228.65 189.24L224.21 194.93L220.31 201.01L217.1 207.47L214.57 214.22L212.67 221.14L222.58 223.8L232.5 226.46ZM239.34 387.08L227.52 380.67L216.35 373.44L205.69 365.66L195.56 357.33L186.19 348.21L177.89 338.15L170.63 327.38L164.12 316.23L157.89 304.94L152.02 293.35L146.91 281.28L142.86 268.7L139.76 255.72L138.04 245.69L137.32 242.4L135.89 228.74L136.61 215L138.76 201.34L142.01 187.81L146.47 174.54L152.21 161.69L159.18 149.4L167.13 137.62L175.85 126.25L175.85 126.25L185.11 115.02L195.25 104.23L206.44 94.21L218.81 85.45L230.79 78.95L232.24 78.22L246.5 72.61L261.4 68.87L276.65 66.9L292 66.66L292 60.62L276.11 60.8L260.28 62.52L244.69 65.83L229.56 70.84L215.23 77.76L202.17 86.8L190.93 98.06L186.94 103.03L180.74 109.81L171.01 121.41L161.91 133.24L153.53 145.44L146.04 158.13L139.58 171.33L133.96 184.88L128.37 198.56L120.77 212.21L119.89 213.42L109.71 212.02L107.9 226.29L107.2 242.4L107.2 242.4L113.8 257.99L117.56 273.16L121.55 288.07L126.53 302.62L132.57 316.74L139.58 330.4L147.49 343.59L156.17 356.37L165.43 368.97L174.86 382.01L179.42 388.95L186 393.78L192.63 398.21L187.88 391.1L178.15 378.08L168.59 365.81L168.59 365.81L161.15 352.2L153.25 339.55L146.04 326.67L139.99 313.28L135.53 299.35L133.33 284.92L140.75 297.45L148.42 309.35L156.16 320.83L163.88 332.11L172.06 343.04L181.14 353.26L191.21 362.51L202.01 370.91L213.37 378.6L225.24 385.56L237.67 391.67L250.6 396.89L263.99 401.24L277.83 404.41L292 405.94L306.27 405.51L320.4 403.48L334.3 400.26L347.93 396.08L361.24 390.89L374.13 384.66L374.13 384.66L386.5 377.35L398.14 368.89L408.88 359.28L418.59 348.62L427.29 337.13L435.07 325L442 312.35L447.92 299.15L452.51 285.41L455.39 271.21L456.52 256.79L456.27 242.4L456.27 242.4L455.47 228.1L454.48 218.21L453.91 213.85L451.71 199.6L448.45 185.46L444.04 171.5L438.41 157.87L431.42 144.78L423.11 132.39L413.59 120.81L403.01 110.1L391.53 100.25L379.27 91.25L379.27 91.25L366.5 82.63L352.85 75.21L338.4 69.25L323.31 64.82L307.79 61.95L292 60.62L292 66.66L307.24 68.15L312.04 69.02L322.17 71.27L336.62 75.87L350.43 81.85L363.52 89.03L375.84 97.18L387.44 106.1L398.28 115.74L408.29 126.11L410.72 128.87L417.6 137.01L425.99 148.58L433.31 160.81L439.49 173.62L444.51 186.89L448.35 200.51L451.05 214.35L452.75 228.34L453.62 242.4L453.72 256.55L452.72 270.74L450.19 284.79L445.88 298.41L440.13 311.47L433.3 323.98L425.6 335.94L416.97 347.26L407.33 357.73L396.66 367.13L385.14 375.41L372.93 382.58L360.2 388.65L347.04 393.63L333.57 397.56L319.87 400.47L305.98 402.16L292 402.28L278.16 400.56L264.7 397.25L251.72 392.71L239.62 387.22Z"/>
<path fill="#20a486" d="M317.69 187.31L321.61 191.12L325.38 194.73L329.06 198.24L332.65 201.75L336.16 205.34L339.56 209.1L342.79 213.08L345.8 217.31L348.68 221.77L351.5 226.46L361.42 223.8L366.64 215.23L365.29 208.23L363.13 201.33L363.13 201.33L359.41 195.2L355.16 189.4L350.38 184.02L345.08 179.15L339.29 174.86L333.07 171.27L333.07 171.27L323.12 175.67L321.65 176.94L316.04 185.69ZM367.71 229.05L369.69 235.6L374.13 242.4L374.25 235.2L373.18 228.09L371.33 221.14ZM455.47 228.1L456.27 242.4L456.27 242.4L456.52 256.79L455.39 271.21L452.51 285.41L447.92 299.15L442 312.35L435.07 325L427.29 337.13L418.59 348.62L408.88 359.28L398.14 368.89L386.5 377.35L374.13 384.66L374.13 384.66L361.24 390.89L347.93 396.08L334.3 400.26L320.4 403.48L306.27 405.51L292 405.94L277.83 404.41L263.99 401.24L250.6 396.89L237.67 391.67L225.24 385.56L213.37 378.6L202.01 370.91L191.21 362.51L181.14 353.26L172.06 343.04L163.88 332.11L156.16 320.83L148.42 309.35L140.75 297.45L133.33 284.92L135.53 299.35L139.99 313.28L146.04 326.67L153.25 339.55L161.15 352.2L168.59 365.81L168.59 365.81L178.15 378.08L187.88 391.1L192.63 398.21L199.6 402.44L208.57 407.29L202.17 398L191.71 385.63L190.81 384.6L193.68 382.81L209.87 384.66L209.87 384.66L222.8 390.81L236 396.26L249.48 401.07L249.48 401.07L263.14 406.09L277.41 409.2L292 410.24L306.61 409.36L321.02 406.96L335.14 403.38L348.95 398.87L362.41 393.4L375.42 386.88L387.85 379.29L399.55 370.57L410.33 360.73L420.07 349.87L428.82 338.2L436.68 325.93L443.76 313.17L449.91 299.87L454.82 286.03L458.16 271.7L459.92 257.09L460.37 242.4L460.02 227.7L458.93 212.97L456.93 198.21L453.91 183.47L449.77 168.83L448.45 165.03L444.63 154.28L438 140.17L429.84 126.74L420.29 114.11L409.45 102.42L397.45 91.8L384.4 82.36L384.4 82.36L370.1 74.91L355.21 68.74L339.83 63.9L324.09 60.41L308.11 58.3L292 57.6L292 60.62L307.79 61.95L323.31 64.82L338.4 69.25L352.85 75.21L366.5 82.63L379.27 91.25L379.27 91.25L391.53 100.25L403.01 110.1L413.59 120.81L423.11 132.39L431.42 144.78L438.41 157.87L444.04 171.5L448.45 185.46L451.71 199.6L453.91 213.85L454.48 218.21ZM120.77 212.21L128.37 198.56L133.96 184.88L139.58 171.33L146.04 158.13L153.53 145.44L161.91 133.24L171.01 121.41L180.74 109.81L186.94 103.03L190.93 98.06L202.17 86.8L215.23 77.76L229.56 70.84L244.69 65.83L260.28 62.52L276.11 60.8L292 60.62L292 57.6L275.89 58.3L259.91 60.41L244.17 63.9L228.79 68.74L213.9 74.91L199.6 82.36L186 91.02L173.21 100.83L172.82 101.17L163.4 113.8L154.11 126.7L144.87 139.38L135.51 152.05L125.68 164.84L122.94 167.77L118.34 179.19L113.5 194.57L110.01 210.31L109.71 212.02L119.89 213.42Z"/>
<path fill="#25ac82" d="M236 396.26L222.8 390.81L209.87 384.66L209.87 384.66L193.68 382.81L190.81 384.6L191.71 385.63L202.17 398L208.57 407.29L213.9 409.89L228.79 416.06L230.77 416.76L246.83 410.99L246.83 410.99L261.85 413.38L276.93 414.68L292 414.7L306.95 413.31L321.66 410.58L336.02 406.69L350.02 401.81L363.61 395.96L376.7 389.1L389.2 381.22L400.95 372.25L411.78 362.18L421.56 351.11L430.35 339.28L438.3 326.87L445.52 313.99L451.89 300.59L457.13 286.65L460.93 272.19L463.31 257.39L464.48 242.4L464.69 227.29L464 212.75L463.95 212.08L462.57 196.7L460.31 181.14L456.9 165.51L452.04 150L452.04 150L443.38 136.4L433.57 123.61L422.67 111.73L410.79 100.83L398 91.02L384.4 82.36L397.45 91.8L409.45 102.42L420.29 114.11L429.84 126.74L438 140.17L444.63 154.28L448.45 165.03L449.77 168.83L453.91 183.47L456.93 198.21L458.93 212.97L460.02 227.7L460.37 242.4L459.92 257.09L458.16 271.7L454.82 286.03L449.91 299.87L443.76 313.17L436.68 325.93L428.82 338.2L420.07 349.87L410.33 360.73L399.55 370.57L387.85 379.29L375.42 386.88L362.41 393.4L348.95 398.87L335.14 403.38L321.02 406.96L306.61 409.36L292 410.24L277.41 409.2L263.14 406.09L249.48 401.07L249.48 401.07ZM125.68 164.84L135.51 152.05L144.87 139.38L154.11 126.7L163.4 113.8L172.82 101.17L161.33 111.73L150.43 123.61L140.62 136.4L131.96 150L124.51 164.3L122.94 167.77Z"/>
<path fill="#2fb47c" d="M464.69 227.29L464.48 242.4L463.31 257.39L460.93 272.19L457.13 286.65L451.89 300.59L445.52 313.99L438.3 326.87L430.35 339.28L421.56 351.11L411.78 362.18L400.95 372.25L389.2 381.22L376.7 389.1L363.61 395.96L350.02 401.81L336.02 406.69L321.66 410.58L306.95 413.31L292 414.7L276.93 414.68L261.85 413.38L246.83 410.99L246.83 410.99L230.77 416.76L244.17 420.9L257.45 423.94L260.08 423.43L276.34 421.42L292 419.79L307.32 417.47L321.12 414.49L322.29 414.2L336.91 409.99L351.09 404.74L364.8 398.52L377.98 391.33L390.56 383.15L402.36 373.93L413.24 363.64L423.05 352.36L431.89 340.35L439.92 327.8L447.29 314.81L453.87 301.32L459.43 287.26L463.7 272.68L464.4 269.58L466.75 257.69L468.77 242.4L469.88 226.84L470.04 211.01L469.18 194.92L468.44 187.43L465.66 179.19L459.49 164.3L452.04 150L456.9 165.51L460.31 181.14L462.57 196.7L463.95 212.08L464 212.75Z"/>
<path fill="#3bbb75" d="M463.7 272.68L459.43 287.26L453.87 301.32L447.29 314.81L439.92 327.8L431.89 340.35L423.05 352.36L413.24 363.64L402.36 373.93L390.56 383.15L377.98 391.33L364.8 398.52L351.09 404.74L336.91 409.99L322.29 414.2L321.12 414.49L307.32 417.47L292 419.79L276.34 421.42L260.08 423.43L257.45 423.94L259.91 424.39L275.89 426.5L283.96 427.02L292 425.49L307.74 422.28L323.03 418.37L337.86 413.56L352.2 407.81L366.02 401.14L379.27 393.55L379.27 393.55L391.91 385.08L403.77 375.61L414.69 365.09L424.54 353.61L433.42 341.42L441.53 328.73L449.05 315.63L455.85 302.04L456.7 300.16L461.83 287.9L466.61 273.19L470.34 258L473.23 242.4L475.24 226.37L475.59 221.26L473.99 210.31L470.5 194.57L468.44 187.43L469.18 194.92L470.04 211.01L469.88 226.84L468.77 242.4L466.75 257.69L464.4 269.58Z"/>
<path fill="#4cc26c" d="M455.85 302.04L449.05 315.63L441.53 328.73L433.42 341.42L424.54 353.61L414.69 365.09L403.77 375.61L391.91 385.08L379.27 393.55L379.27 393.55L366.02 401.14L352.2 407.81L337.86 413.56L323.03 418.37L307.74 422.28L292 425.49L283.96 427.02L292 427.2L308.11 426.5L311.54 426.16L323.76 422.54L338.85 417.23L353.38 411.04L367.35 403.99L380.73 396.09L393.47 387.32L405.4 377.55L416.32 366.72L426.11 354.93L434.63 342.99L434.96 342.5L443.15 329.67L443.15 329.67L450.92 316.5L458.06 302.84L464.31 288.57L469.52 273.7L473.92 258.32L476.76 246.39L476.8 242.4L476.1 226.29L475.59 221.26L475.24 226.37L473.23 242.4L470.34 258L466.61 273.19L461.83 287.9L456.7 300.16Z"/>
<path fill="#5ec962" d="M434.96 342.5L434.63 342.99L426.11 354.93L416.32 366.72L405.4 377.55L393.47 387.32L380.73 396.09L367.35 403.99L353.38 411.04L338.85 417.23L323.76 422.54L311.54 426.16L324.09 424.39L339.83 420.9L339.83 420.9L354.55 414.27L368.68 406.84L382.2 398.63L395.07 389.6L407.12 379.6L418.14 368.54L427.98 356.5L436.87 343.84L445.13 330.81L452.98 317.47L460.28 303.65L466.78 289.23L472.44 274.22L475.37 265.31L476.1 258.51L476.76 246.39L473.92 258.32L469.52 273.7L464.31 288.57L458.06 302.84L450.92 316.5L443.15 329.67L443.15 329.67Z"/>
<path fill="#70cf57" d="M472.44 274.22L466.78 289.23L460.28 303.65L452.98 317.47L445.13 330.81L436.87 343.84L427.98 356.5L418.14 368.54L407.12 379.6L395.07 389.6L382.2 398.63L368.68 406.84L354.55 414.27L339.83 420.9L355.21 416.06L368.17 410.77L370.01 409.69L383.67 401.17L396.67 391.88L408.84 381.65L419.95 370.35L429.86 358.07L438.79 345.18L447.1 331.95L455.05 318.43L462.5 304.46L469.26 289.9L472.48 282.14L473.99 274.49L475.37 265.31Z"/>
<path fill="#86d549" d="M469.26 289.9L462.5 304.46L455.05 318.43L447.1 331.95L438.79 345.18L429.86 358.07L419.95 370.35L408.84 381.65L396.67 391.88L383.67 401.17L370.01 409.69L368.17 410.77L370.1 409.89L384.4 402.44L398 393.78L405.33 388.37L410.56 383.7L421.77 372.17L431.73 359.65L440.71 346.53L449.08 333.09L457.12 319.4L464.72 305.26L468.04 298.63L470.5 290.23L472.48 282.14Z"/>
<path fill="#9bd93c" d="M464.72 305.26L457.12 319.4L449.08 333.09L440.71 346.53L431.73 359.65L421.77 372.17L410.56 383.7L405.33 388.37L410.79 383.97L422.67 373.07L433.57 361.19L434.1 360.55L442.63 347.87L451.05 334.23L459.19 320.36L460.81 317.59L465.66 305.61L468.04 298.63Z"/>
<path fill="#b2dd2d" d="M459.19 320.36L451.05 334.23L442.63 347.87L434.1 360.55L443.38 348.4L452.04 334.8L459.49 320.5L460.81 317.59Z"/>
</g>
<g id="grid" class="grid">
<line x1="292.5" y1="57.6" x2="292.5" y2="427.2"/>
<line x1="107.2" y1="242.5" x2="476.8" y2="242.5"/>
<line x1="292" y1="242.4" x2="422.67" y2="111.73"/>
<line x1="292" y1="242.4" x2="422.67" y2="373.07"/>
<line x1="292" y1="242.4" x2="161.33" y2="373.07"/>
<line x1="292" y1="242.4" x2="161.33" y2="111.73"/>
<circle cx="292" cy="242.4" r="20.53"/>
<circle cx="292" cy="242.4" r="41.07"/>
<circle cx="292" cy="242.4" r="61.6"/>
<circle cx="292" cy="242.4" r="82.13"/>
<circle cx="292" cy="242.4" r="102.67"/>
<circle cx="292" cy="242.4" r="123.2"/>
<circle cx="292" cy="242.4" r="143.73"/>
<circle cx="292" cy="242.4" r="164.27"/>
<circle cx="292" cy="242.4" r="184.8"/>
</g>
<circle cx="292" cy="242.4" r="184.8" fill="none" stroke="#000" stroke-width="1.11"/>
<g id="labels">
<text class="tk" x="284.73" y="42" textLength="15.75" lengthAdjust="spacingAndGlyphs">0°</text>
<text class="tk" x="424.77" y="102" textLength="24.5" lengthAdjust="spacingAndGlyphs">45°</text>
<text class="tk" x="484.53" y="246" textLength="24.62" lengthAdjust="spacingAndGlyphs">90°</text>
<text class="tk" x="420.34" y="391" textLength="33.38" lengthAdjust="spacingAndGlyphs">135°</text>
<text class="tk" x="275.85" y="451" textLength="33.5" lengthAdjust="spacingAndGlyphs">180°</text>
<text class="tk" x="131.55" y="391" textLength="33.25" lengthAdjust="spacingAndGlyphs">225°</text>
<text class="tk" x="71.73" y="246" textLength="33.25" lengthAdjust="spacingAndGlyphs">270°</text>
<text class="tk" x="131.49" y="102" textLength="33.38" lengthAdjust="spacingAndGlyphs">315°</text>
<text class="tk" x="300.46" y="220" textLength="16.92" lengthAdjust="spacingAndGlyphs">10</text>
<text class="tk" x="308.32" y="201" textLength="16.8" lengthAdjust="spacingAndGlyphs">20</text>
<text class="tk" x="316.17" y="182" textLength="16.8" lengthAdjust="spacingAndGlyphs">30</text>
<text class="tk" x="324.03" y="164" textLength="16.8" lengthAdjust="spacingAndGlyphs">40</text>
<text class="tk" x="331.89" y="145" textLength="16.8" lengthAdjust="spacingAndGlyphs">50</text>
<text class="tk" x="339.75" y="126" textLength="16.92" lengthAdjust="spacingAndGlyphs">60</text>
<text class="tk" x="347.6" y="107" textLength="16.8" lengthAdjust="spacingAndGlyphs">70</text>
<text class="tk" x="355.46" y="88" textLength="16.92" lengthAdjust="spacingAndGlyphs">80</text>
<text class="tk" x="363.32" y="69" textLength="16.92" lengthAdjust="spacingAndGlyphs">90</text>
<text class="tk" x="530.4" y="396" textLength="28.08" lengthAdjust="spacingAndGlyphs">−12</text>
<text class="tk" x="530.4" y="346" textLength="19.68" lengthAdjust="spacingAndGlyphs">−8</text>
<text class="tk" x="530.4" y="297" textLength="19.56" lengthAdjust="spacingAndGlyphs">−4</text>
<text class="tk" x="530.4" y="248" textLength="8.4" lengthAdjust="spacingAndGlyphs">0</text>
<text class="tk" x="530.4" y="199" textLength="8.4" lengthAdjust="spacingAndGlyphs">4</text>
<text class="tk" x="530.4" y="149" textLength="8.52" lengthAdjust="spacingAndGlyphs">8</text>
<text class="tk" x="530.4" y="100" textLength="16.92" lengthAdjust="spacingAndGlyphs">12</text>
</g>
<text id="title" class="ttl" y="23"><tspan x="60.4" textLength="259" lengthAdjust="spacingAndGlyphs">Antenna Phase Biases: SLGSL9</tspan><tspan>          </tspan><tspan x="371.2" textLength="152" lengthAdjust="spacingAndGlyphs">NONE GALILEO-E1</tspan></text>
<text id="cblabel" class="tk" transform="translate(574.7 279) rotate(-90)" x="0" y="0" textLength="71.5" lengthAdjust="spacingAndGlyphs">Bias (mm)</text>
<g id="colorbar" shape-rendering="crispEdges">
<rect x="502" y="415" width="19" height="12" fill="#46075a"/>
<rect x="502" y="403" width="19" height="12" fill="#471365"/>
<rect x="502" y="390" width="19" height="13" fill="#481f70"/>
<rect x="502" y="378" width="19" height="12" fill="#482979"/>
<rect x="502" y="366" width="19" height="12" fill="#463480"/>
<rect x="502" y="353" width="19" height="13" fill="#433e85"/>
<rect x="502" y="341" width="19" height="12" fill="#3f4889"/>
<rect x="502" y="329" width="19" height="12" fill="#3b528b"/>
<rect x="502" y="316" width="19" height="13" fill="#375b8d"/>
<rect x="502" y="304" width="19" height="12" fill="#32648e"/>
<rect x="502" y="292" width="19" height="12" fill="#2f6c8e"/>
<rect x="502" y="279" width="19" height="13" fill="#2b748e"/>
<rect x="502" y="267" width="19" height="12" fill="#287c8e"/>
<rect x="502" y="255" width="19" height="12" fill="#25848e"/>
<rect x="502" y="242" width="19" height="13" fill="#228c8d"/>
<rect x="502" y="230" width="19" height="12" fill="#1f948c"/>
<rect x="502" y="218" width="19" height="12" fill="#1e9c89"/>
<rect x="502" y="205" width="19" height="13" fill="#20a486"/>
<rect x="502" y="193" width="19" height="12" fill="#25ac82"/>
<rect x="502" y="181" width="19" height="12" fill="#2fb47c"/>
<rect x="502" y="168" width="19" height="13" fill="#3bbb75"/>
<rect x="502" y="156" width="19" height="12" fill="#4cc26c"/>
<rect x="502" y="144" width="19" height="12" fill="#5ec962"/>
<rect x="502" y="132" width="19" height="12" fill="#70cf57"/>
<rect x="502" y="119" width="19" height="13" fill="#86d549"/>
<rect x="502" y="107" width="19" height="12" fill="#9bd93c"/>
<rect x="502" y="95" width="19" height="12" fill="#b2dd2d"/>
<rect x="502" y="82" width="19" height="13" fill="#c8e020"/>
<rect x="502" y="70" width="19" height="12" fill="#dfe318"/>
<rect x="502" y="58" width="19" height="12" fill="#f4e61e"/>
</g>
<rect x="502.5" y="58.5" width="18" height="369" fill="none" stroke="#000" stroke-width="1.11"/>
<line class="tick" x1="520" y1="390.5" x2="525.5" y2="390.5"/>
<line class="tick" x1="520" y1="341.5" x2="525.5" y2="341.5"/>
<line class="tick" x1="520" y1="292.5" x2="525.5" y2="292.5"/>
<line class="tick" x1="520" y1="242.5" x2="525.5" y2="242.5"/>
<line class="tick" x1="520" y1="193.5" x2="525.5" y2="193.5"/>
<line class="tick" x1="520" y1="144.5" x2="525.5" y2="144.5"/>
<line class="tick" x1="520" y1="95.5" x2="525.5" y2="95.5"/>
</svg>
</body>
</html>
